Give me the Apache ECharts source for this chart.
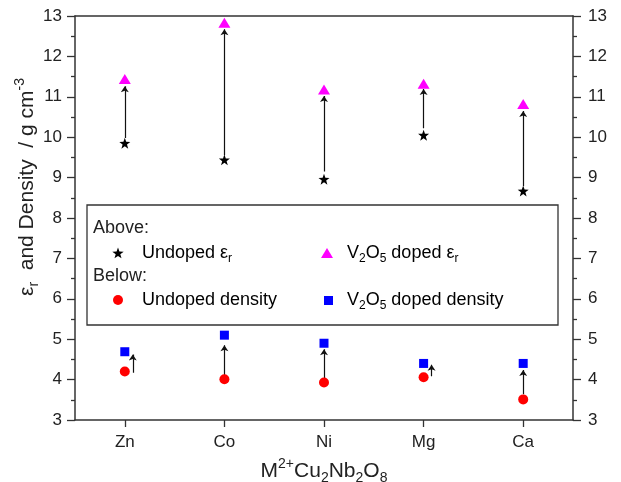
<!DOCTYPE html>
<html>
<head>
<meta charset="utf-8">
<script src="https://cdn.jsdelivr.net/npm/echarts@6/dist/echarts.min.js"></script>
<style>
  html, body { margin: 0; padding: 0; background: #fff; }
  #chart { width: 621px; height: 482px; }
</style>
</head>
<body>
<div id="chart"></div>
<script>
'use strict';
var categories = ['Zn', 'Co', 'Ni', 'Mg', 'Ca'];
var undopedEr = [9.85, 9.44, 8.96, 10.05, 8.67];
var dopedEr = [11.44, 12.83, 11.18, 11.32, 10.82];
var undopedDensity = [4.20, 4.01, 3.93, 4.06, 3.51];
var dopedDensity = [4.69, 5.10, 4.90, 4.40, 4.40];
// arrows (start / end value, sideways shift in category units)
var erArrowFrom = [9.98, 9.56, 9.15, 10.22, 8.79];
var erArrowTo = [11.26, 12.67, 11.02, 11.19, 10.65];
var densityArrowFrom = [4.17, 4.07, 4.01, 4.08, 3.64];
var densityArrowTo = [4.62, 4.85, 4.75, 4.37, 4.24];
var densityArrowShift = [0.08, 0, 0, 0.08, 0];

var STAR = 'path://M50,0 L61.8,33.8 L97.6,34.5 L69,56.2 L79.4,90.5 L50,70 L20.6,90.5 L31,56.2 L2.4,34.5 L38.2,33.8 Z';
var FONT = 'Liberation Sans';
var txt = '#222';

function points(vals){
    return vals.map(function(v, i){ return [i + 1, v]; });
}
function arrows(from, to, shift){
    return from.map(function(v, i){
        var x = i + 1 + (shift ? shift[i] : 0);
        return { coords: [[x, v], [x, to[i]]] };
    });
}
// star outline for the legend key
function starPoints(cx, cy, r){
    var pts = [];
    for(var k = 0; k < 10; k++){
        var a = (-90 + k * 36) * Math.PI / 180;
        var rr = (k % 2) ? r * 0.4 : r;
        pts.push([cx + rr * Math.cos(a), cy + rr * Math.sin(a)]);
    }
    return pts;
}

var rich = {
    n: { fontSize: 18, fontFamily: FONT, color: txt, lineHeight: 24, verticalAlign: 'middle' },
    sub: { fontSize: 12, fontFamily: FONT, color: txt, verticalAlign: 'bottom', lineHeight: 12 },
    sup: { fontSize: 12, fontFamily: FONT, color: txt, verticalAlign: 'top', lineHeight: 12 }
};
var richBig = {
    n: { fontSize: 21, fontFamily: FONT, color: txt, lineHeight: 28, verticalAlign: 'middle' },
    sub: { fontSize: 14, fontFamily: FONT, color: txt, verticalAlign: 'bottom', lineHeight: 14 },
    sup: { fontSize: 14, fontFamily: FONT, color: txt, verticalAlign: 'top', lineHeight: 14 }
};

var myChart = echarts.init(document.getElementById('chart'), null, { renderer: 'canvas' });
var axisLine = { show: true, lineStyle: { color: '#333', width: 1.5 } };
var yBase = {
    type: 'value', min: 3, max: 13, interval: 1,
    axisLine: axisLine,
    axisTick: { show: true, inside: false, length: 8, lineStyle: { color: '#333', width: 1.3 } },
    minorTick: { show: true, splitNumber: 2, length: 4, lineStyle: { color: '#333', width: 1.3 } },
    splitLine: { show: false },
    axisLabel: { fontSize: 17, fontFamily: FONT, color: txt, margin: 13 }
};

var option = {
    animation: false,
    backgroundColor: '#fff',
    grid: { left: 75, right: 48, top: 16, bottom: 62, containLabel: false, outerBoundsMode: 'none' },
    xAxis: [
        {
            type: 'category', data: categories, boundaryGap: true,
            axisLine: axisLine,
            axisTick: { show: true, alignWithLabel: true, length: 7, lineStyle: { color: '#333', width: 1.3 } },
            axisLabel: { fontSize: 17, fontFamily: FONT, color: txt, margin: 14 },
            splitLine: { show: false },
            name: '{n|M}{sup|2+}{n|Cu}{sub|2}{n|Nb}{sub|2}{n|O}{sub|8}',
            nameLocation: 'middle', nameGap: 37, nameMoveOverlap: false,
            nameTextStyle: { rich: richBig }
        },
        {
            type: 'value', min: 0.5, max: 5.5, position: 'top',
            axisLine: axisLine, axisTick: { show: false }, axisLabel: { show: false },
            splitLine: { show: false }
        }
    ],
    yAxis: [
        Object.assign({}, yBase, {
            position: 'left',
            name: '{n|ε}{sub|r}{n|  and Density  / g cm}{sup|-3}',
            nameLocation: 'middle', nameGap: 34, nameRotate: 90, nameMoveOverlap: false,
            nameTextStyle: { rich: richBig, padding: [0, 0, 0, 62] }
        }),
        Object.assign({}, yBase, {
            position: 'right',
            axisLabel: { fontSize: 17, fontFamily: FONT, color: txt, margin: 15 }
        })
    ],
    series: [
        {
            name: 'er arrows', type: 'lines', coordinateSystem: 'cartesian2d',
            xAxisIndex: 1, yAxisIndex: 0, silent: true,
            symbol: ['none', 'arrow'], symbolSize: [0, 6],
            lineStyle: { color: '#111', width: 1.2, opacity: 1 },
            data: arrows(erArrowFrom, erArrowTo)
        },
        {
            name: 'density arrows', type: 'lines', coordinateSystem: 'cartesian2d',
            xAxisIndex: 1, yAxisIndex: 0, silent: true,
            symbol: ['none', 'arrow'], symbolSize: [0, 6],
            lineStyle: { color: '#111', width: 1.2, opacity: 1 },
            data: arrows(densityArrowFrom, densityArrowTo, densityArrowShift)
        },
        {
            name: 'Undoped εr', type: 'scatter', xAxisIndex: 1,
            symbol: STAR, symbolSize: 11,
            itemStyle: { color: '#000', opacity: 1 },
            data: points(undopedEr)
        },
        {
            name: 'V2O5 doped εr', type: 'scatter', xAxisIndex: 1,
            symbol: 'triangle', symbolSize: [12, 10],
            itemStyle: { color: '#ff00ff', opacity: 1 },
            data: points(dopedEr)
        },
        {
            name: 'Undoped density', type: 'scatter', xAxisIndex: 1,
            symbol: 'circle', symbolSize: 10,
            itemStyle: { color: '#ff0000', opacity: 1 },
            data: points(undopedDensity)
        },
        {
            name: 'V2O5 doped density', type: 'scatter', xAxisIndex: 1,
            symbol: 'rect', symbolSize: 9,
            itemStyle: { color: '#0000ff', opacity: 1 },
            data: points(dopedDensity)
        }
    ],
    graphic: [
        { type: 'rect', shape: { x: 87, y: 205, width: 471, height: 120 }, style: { fill: '#fff', stroke: '#333', lineWidth: 1.3 }, z: 10 },
        { type: 'text', x: 93, y: 219, style: { text: 'Above:', fontSize: 18, fontFamily: FONT, fill: txt }, z: 11 },
        { type: 'text', x: 93, y: 267, style: { text: 'Below:', fontSize: 18, fontFamily: FONT, fill: txt }, z: 11 },
        { type: 'polygon', shape: { points: starPoints(118, 253.5, 6) }, style: { fill: '#000' }, z: 11 },
        { type: 'polygon', shape: { points: [[327, 248], [333, 258], [321, 258]] }, style: { fill: '#ff00ff' }, z: 11 },
        { type: 'circle', shape: { cx: 118, cy: 300, r: 5 }, style: { fill: '#ff0000' }, z: 11 },
        { type: 'rect', shape: { x: 324, y: 296, width: 9, height: 9 }, style: { fill: '#0000ff' }, z: 11 },
        { type: 'text', x: 142, y: 241, style: { text: '{n|Undoped ε}{sub|r}', rich: rich }, z: 11 },
        { type: 'text', x: 347, y: 241, style: { text: '{n|V}{sub|2}{n|O}{sub|5}{n| doped ε}{sub|r}', rich: rich }, z: 11 },
        { type: 'text', x: 142, y: 288, style: { text: '{n|Undoped density}', rich: rich }, z: 11 },
        { type: 'text', x: 347, y: 288, style: { text: '{n|V}{sub|2}{n|O}{sub|5}{n| doped density}', rich: rich }, z: 11 }
    ]
};
myChart.setOption(option);
</script>
</body>
</html>
